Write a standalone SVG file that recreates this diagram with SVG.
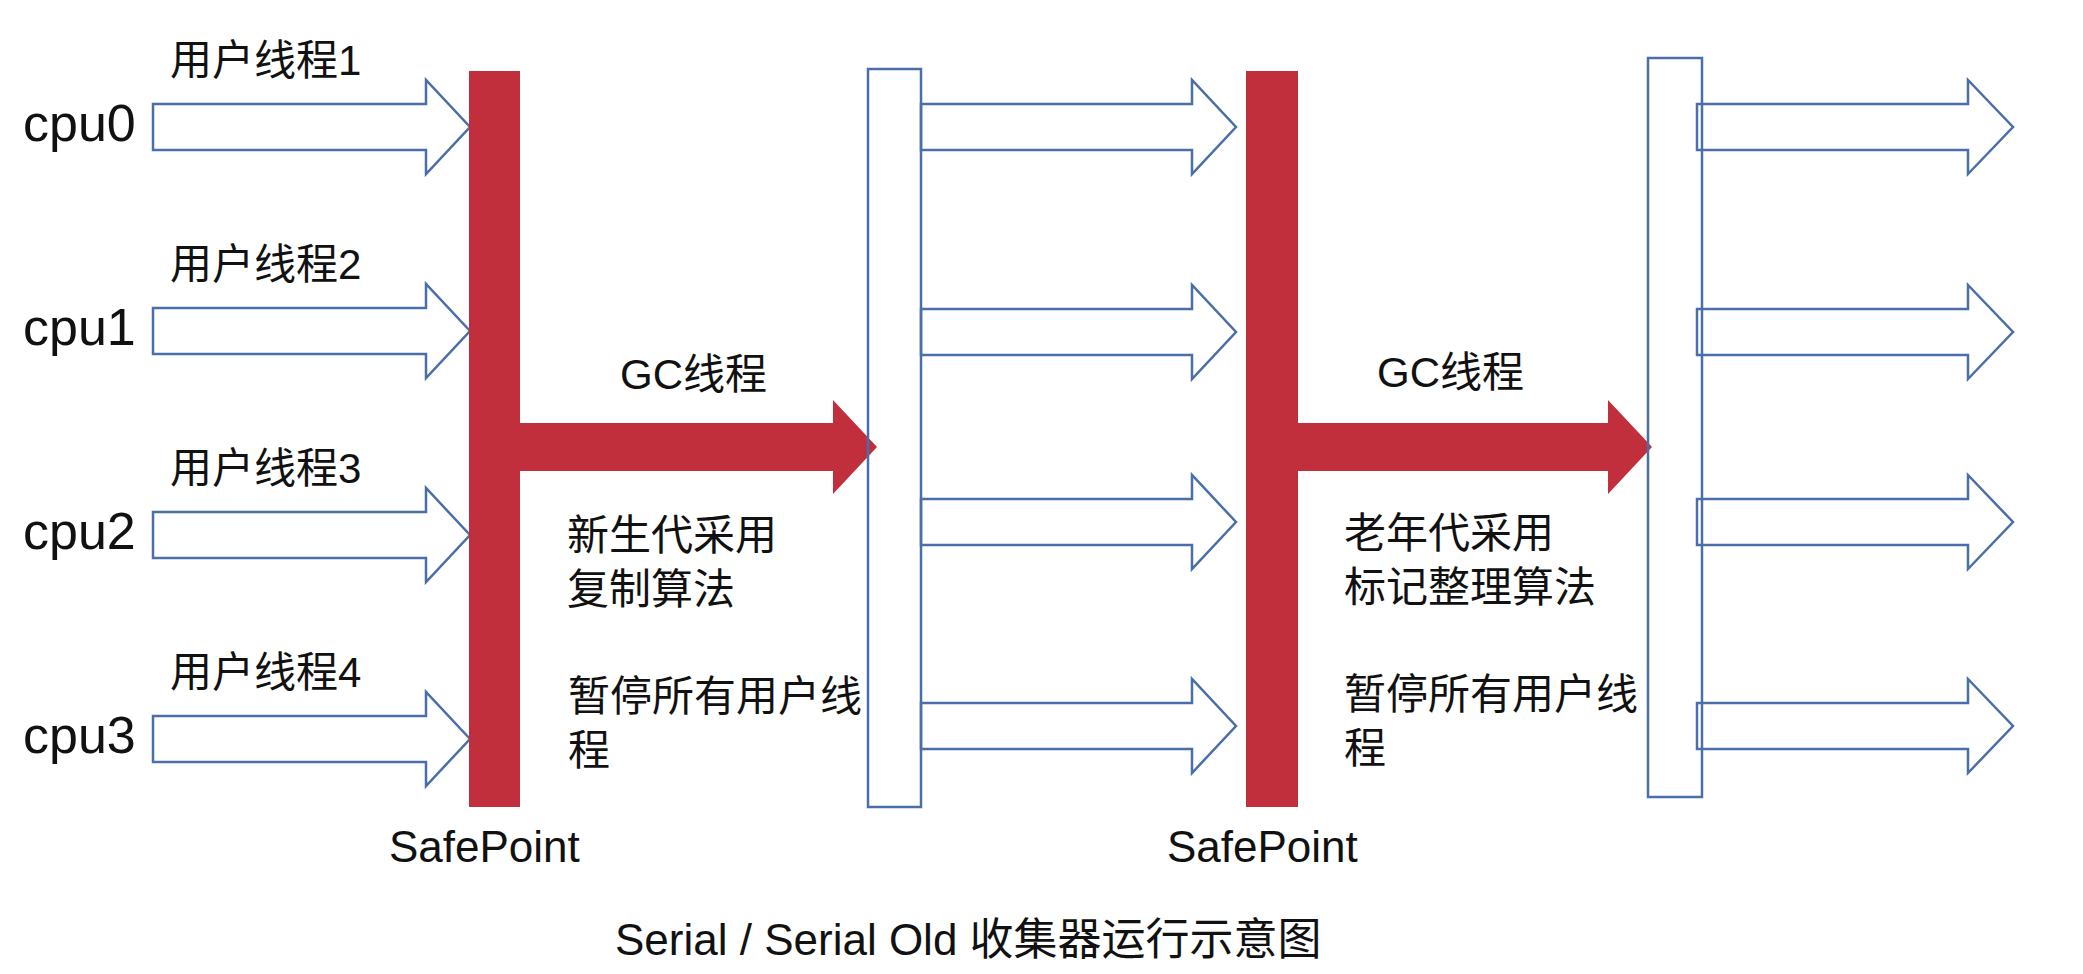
<svg xmlns="http://www.w3.org/2000/svg" width="2083" height="974" viewBox="0 0 2083 974">
<style>
  .t { font-family: "Liberation Sans", "Noto Sans CJK SC", sans-serif; fill: #111; }
  .cpu { font-size: 52px; }
  .lbl { font-size: 42px; }
  .sp { font-size: 44px; }
  .hollow { fill: #fff; stroke: #4a6fa8; stroke-width: 2.5; stroke-linejoin: miter; }
  .box { fill: none; stroke: #4a6fa8; stroke-width: 2.5; }
  .red { fill: #c12e3c; }
</style>
<rect width="2083" height="974" fill="#fff"/>

<g id="connectors">
  <!-- user thread arrows into first safepoint -->
  <polygon class="hollow" points="153,104 426,104 426,80 470,127 426,174 426,150 153,150"/>
  <polygon class="hollow" points="153,308 426,308 426,284 470,331 426,378 426,354 153,354"/>
  <polygon class="hollow" points="153,512 426,512 426,488 470,535 426,582 426,558 153,558"/>
  <polygon class="hollow" points="153,716 426,716 426,692 470,739 426,786 426,762 153,762"/>
  <!-- arrows from first rect to second safepoint -->
  <polygon class="hollow" points="921,104 1192,104 1192,80 1236,127 1192,174 1192,150 921,150"/>
  <polygon class="hollow" points="921,309 1192,309 1192,285 1236,332 1192,379 1192,355 921,355"/>
  <polygon class="hollow" points="921,499 1192,499 1192,475 1236,522 1192,569 1192,545 921,545"/>
  <polygon class="hollow" points="921,703 1192,703 1192,679 1236,726 1192,773 1192,749 921,749"/>
  <!-- arrows out of second rect -->
  <polygon class="hollow" points="1697,104 1968,104 1968,80 2013,127 1968,174 1968,150 1697,150"/>
  <polygon class="hollow" points="1697,309 1968,309 1968,285 2013,332 1968,379 1968,355 1697,355"/>
  <polygon class="hollow" points="1697,499 1968,499 1968,475 2013,522 1968,569 1968,545 1697,545"/>
  <polygon class="hollow" points="1697,703 1968,703 1968,679 2013,726 1968,773 1968,749 1697,749"/>
  <!-- GC thread arrows -->
  <polygon class="red" points="518,423 833,423 833,400 877,447 833,494 833,471 518,471"/>
  <polygon class="red" points="1296,423 1608,423 1608,400 1652,447 1608,494 1608,471 1296,471"/>
</g>

<g id="safepoint1">
  <rect class="red" x="469" y="71" width="51" height="736"/>
  <text class="t sp" x="389" y="862">SafePoint</text>
</g>
<g id="rect1">
  <rect class="box" x="868" y="69" width="53" height="738"/>
</g>
<g id="safepoint2">
  <rect class="red" x="1246" y="71" width="52" height="736"/>
  <text class="t sp" x="1167" y="862">SafePoint</text>
</g>
<g id="rect2">
  <rect class="box" x="1648" y="58" width="54" height="739"/>
</g>

<g id="cpu-labels">
  <text class="t cpu" x="23" y="141">cpu0</text>
  <text class="t cpu" x="23" y="345">cpu1</text>
  <text class="t cpu" x="23" y="549">cpu2</text>
  <text class="t cpu" x="23" y="753">cpu3</text>
</g>
<g id="thread-labels">
  <text class="t lbl" x="170" y="75">用户线程1</text>
  <text class="t lbl" x="170" y="279">用户线程2</text>
  <text class="t lbl" x="170" y="483">用户线程3</text>
  <text class="t lbl" x="170" y="687">用户线程4</text>
</g>
<g id="gc1-labels">
  <text class="t lbl" x="620" y="389">GC线程</text>
  <text class="t lbl" x="567" y="550">新生代采用</text>
  <text class="t lbl" x="567" y="604">复制算法</text>
  <text class="t lbl" x="568" y="711">暂停所有用户线</text>
  <text class="t lbl" x="568" y="765">程</text>
</g>
<g id="gc2-labels">
  <text class="t lbl" x="1377" y="387">GC线程</text>
  <text class="t lbl" x="1344" y="548">老年代采用</text>
  <text class="t lbl" x="1344" y="602">标记整理算法</text>
  <text class="t lbl" x="1344" y="709">暂停所有用户线</text>
  <text class="t lbl" x="1344" y="763">程</text>
</g>
<g id="caption">
  <text class="t sp" x="615" y="955">Serial / Serial Old 收集器运行示意图</text>
</g>
</svg>
